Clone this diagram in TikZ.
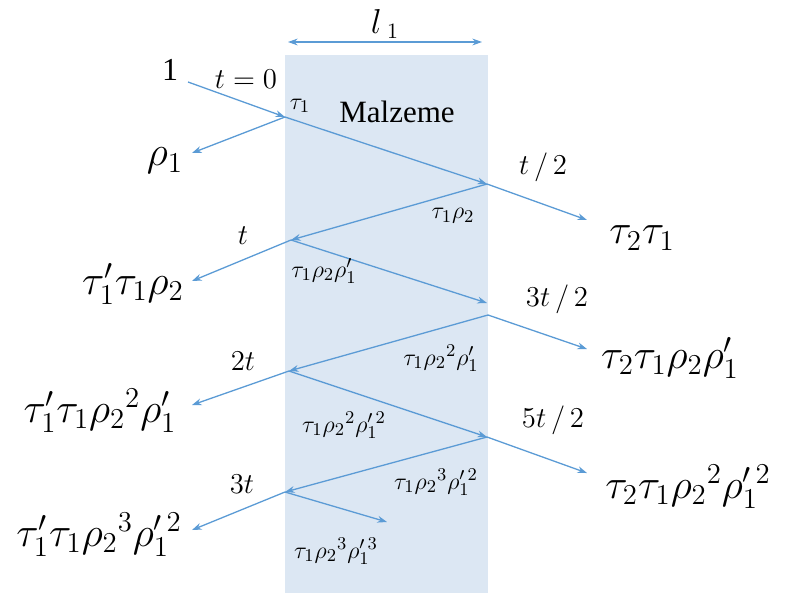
\documentclass[tikz,border=0pt]{standalone}
\usepackage{fontspec}
\setmainfont{Liberation Serif}
\usetikzlibrary{arrows.meta}
\definecolor{raymavi}{RGB}{91,155,213}
\definecolor{malzrenk}{RGB}{220,231,243}
\begin{document}
\begin{tikzpicture}[x=0.5pt,y=-0.5pt,>={Stealth[length=4.8pt,width=3.4pt]},line join=round,
		isin/.style={raymavi,line width=0.65pt,->},
		buyuk/.style={font=\fontsize{20}{24}\selectfont},
		orta/.style={font=\fontsize{14.5}{17}\selectfont},
		kucuk/.style={font=\fontsize{12.5}{15}\selectfont}]
	\useasboundingbox (0,0) rectangle (785,599);
	\fill[malzrenk] (285,55) rectangle (488,593);
	% ray points
	\coordinate (g0) at (188,82);
	\coordinate (a1) at (285,117);
	\coordinate (r1) at (192,153);
	\coordinate (b1) at (487,184);
	\coordinate (c1) at (587,220);
	\coordinate (a2) at (291,240);
	\coordinate (r2) at (192,281);
	\coordinate (b2) at (487,303);
	\coordinate (b2s) at (488,315);
	\coordinate (c2) at (587,349);
	\coordinate (a3) at (289,371);
	\coordinate (r3) at (192,405);
	\coordinate (b3) at (487,437);
	\coordinate (c3) at (587,473);
	\coordinate (a4) at (285,492);
	\coordinate (r4) at (192,530);
	\coordinate (e4) at (387,522);
	\coordinate (d1) at (288,42);
	\coordinate (d2) at (482,42);
	\foreach \u/\v in {g0/a1,a1/r1,a1/b1,b1/c1,b1/a2,a2/r2,a2/b2,b2s/c2,b2s/a3,a3/r3,a3/b3,b3/c3,b3/a4,a4/r4,a4/e4}
		\draw[isin] (\u) -- (\v);
	\draw[isin,<->] (d1) -- (d2);
	% labels
	\node[font=\fontsize{16}{19}\selectfont] (kalinlik) at (385,24) {$l_{\;1}$};
	\node[font=\fontsize{16}{19}\selectfont] (bir) at (170,70) {1};
	\node[orta] (t0) at (246,79) {$t=0$};
	\node[font=\fontsize{13}{15}\selectfont] (tau1) at (300,106) {$\tau_1$};
	\node[font=\fontsize{15.5}{18}\selectfont] (malzeme) at (397,112) {Malzeme};
	\node[buyuk] (yans1) at (165,161) {$\rho_1$};
	\node[orta] (zt) at (243,236) {$t$};
	\node[buyuk] (yans2) at (133,284) {$\tau'_1\tau_1\rho_2$};
	\node[orta] (zt2) at (543,167) {$t\,/\,2$};
	\node[buyuk] (gec1) at (642,238) {$\tau_2\tau_1$};
	\node[kucuk] (i1) at (453,216) {$\tau_1\rho_2$};
	\node[kucuk] (i2) at (324,271) {$\tau_1\rho_2\rho'_1$};
	\node[orta] (zt3) at (557,299) {$3t\,/\,2$};
	\node[buyuk] (gec2) at (670,358) {$\tau_2\tau_1\rho_2\rho'_1$};
	\node[kucuk] (i3) at (441,358) {$\tau_1\rho_2{}^{2}\rho'_1$};
	\node[orta] (z2t) at (243,361) {$2t$};
	\node[buyuk] (yans3) at (100,411) {$\tau'_1\tau_1\rho_2{}^{2}\rho'_1$};
	\node[kucuk] (i4) at (344,425) {$\tau_1\rho_2{}^{2}\rho'^{\,2}_1$};
	\node[orta] (zt5) at (553,420) {$5t\,/\,2$};
	\node[buyuk] (gec3) at (688,487) {$\tau_2\tau_1\rho_2{}^{2}\rho'^{\,2}_1$};
	\node[kucuk] (i5) at (436,482) {$\tau_1\rho_2{}^{3}\rho'^{\,2}_1$};
	\node[orta] (z3t) at (242,484) {$3t$};
	\node[buyuk] (yans4) at (99,535) {$\tau'_1\tau_1\rho_2{}^{3}\rho'^{\,2}_1$};
	\node[kucuk] (i6) at (336,551) {$\tau_1\rho_2{}^{3}\rho'^{\,3}_1$};
\end{tikzpicture}
\end{document}
